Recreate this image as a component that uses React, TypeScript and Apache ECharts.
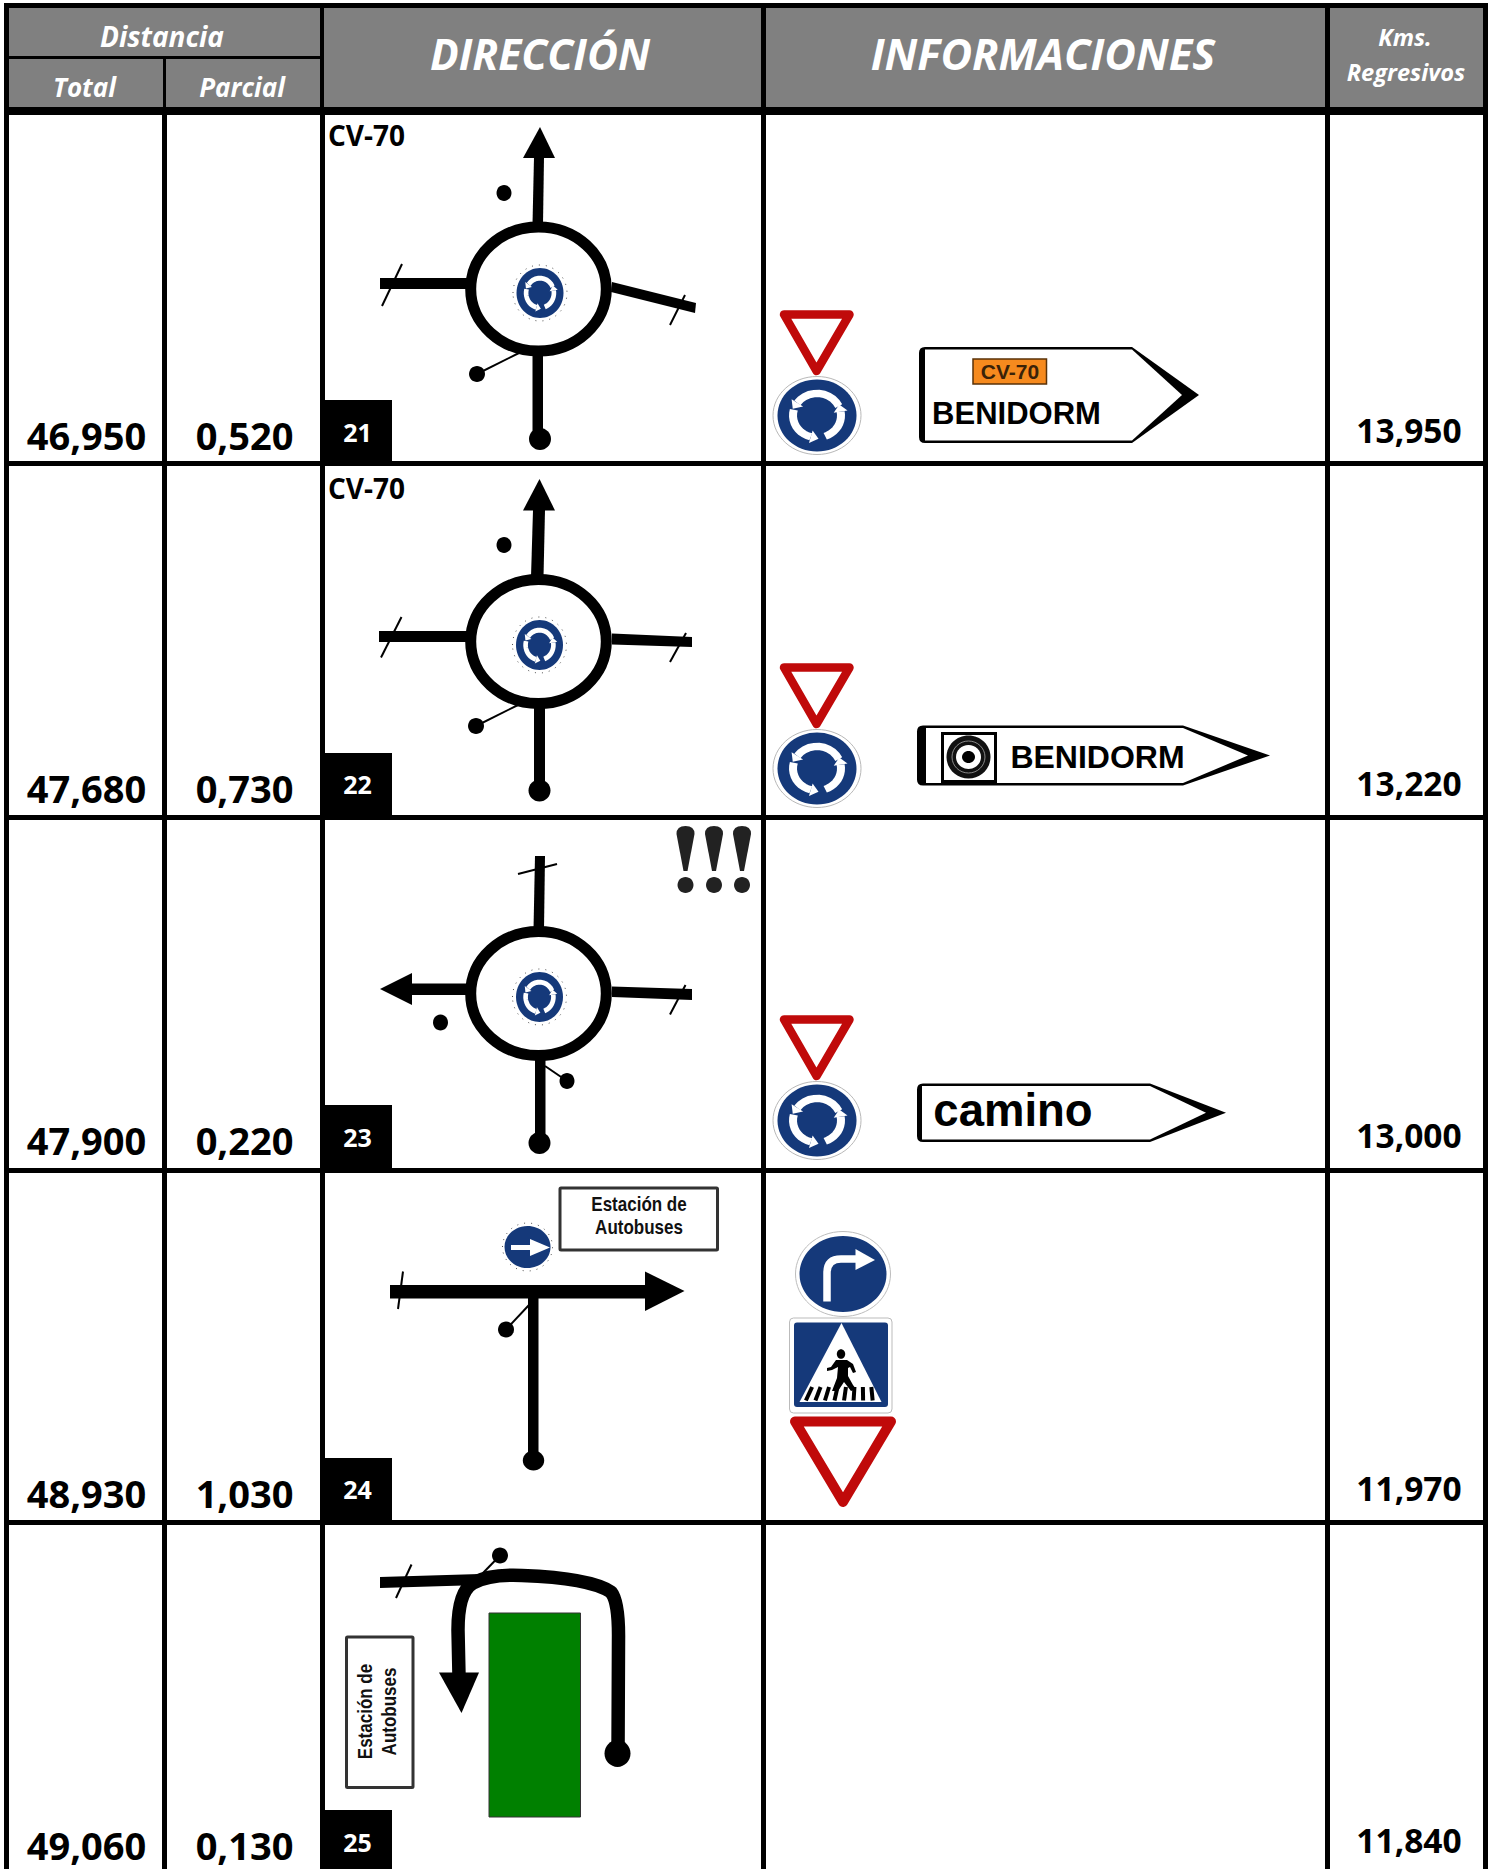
import React, { useEffect, useRef } from "react";
import * as echarts from "echarts";

const totals = ["46,950", "47,680", "47,900", "48,930", "49,060"];
const partials = ["0,520", "0,730", "0,220", "1,030", "0,130"];
const stepNumbers = ["21", "22", "23", "24", "25"];
const regressive = ["13,950", "13,220", "13,000", "11,970", "11,840"];
const roadLabels = ["CV-70", "CV-70", "", "", ""];
const headTop = "Distancia";
const headTotal = "Total";
const headPartial = "Parcial";
const headDirection = "DIRECCIÓN";
const headInfo = "INFORMACIONES";
const headKm = ["Kms.", "Regresivos"];
const placeNames = ["BENIDORM", "camino", "Estación de", "Autobuses"];

const W = 1494;
const H = 1869;
const FONT = '"Open Sans"';
const SIGN = '"Liberation Sans"';
const NAVY = "#15397a";
const RED = "#c00a0a";

const rect = (x0: number, y0: number, x1: number, y1: number, fill: string, extra: any = {}) => ({
  type: "rect",
  shape: { x: x0, y: y0, width: x1 - x0, height: y1 - y0, r: extra.r || 0 },
  style: { fill, stroke: extra.stroke, lineWidth: extra.lineWidth },
});
const ell = (cx: number, cy: number, rx: number, ry: number, fill: string, extra: any = {}) => ({
  type: "ellipse",
  shape: { cx, cy, rx, ry },
  style: { fill, ...extra },
});
const poly = (points: number[][], fill: string, extra: any = {}) => ({
  type: "polygon",
  shape: { points },
  style: { fill, ...extra },
});
const seg = (x0: number, y0: number, x1: number, y1: number, lineWidth = 2, stroke = "#000") => ({
  type: "line",
  shape: { x1: x0, y1: y0, x2: x1, y2: y1 },
  style: { stroke, lineWidth },
});
const path = (d: string, style: any) => ({ type: "path", shape: { pathData: d }, style });
const txt = (text: string, x: number, y: number, size: number, o: any = {}) => ({
  type: "text",
  x,
  y,
  rotation: o.rotation || 0,
  scaleX: o.scaleX || 1,
  style: {
    text,
    x: 0,
    y: 0,
    fill: o.fill || "#000",
    fontSize: size,
    fontFamily: o.family || FONT,
    fontWeight: o.weight || "bold",
    fontStyle: o.italic ? "italic" : "normal",
    textAlign: o.align || "center",
    textVerticalAlign: "middle",
  },
});

function rotaryArrows(lw: number) {
  const r = 24;
  const out: any[] = [];
  [[70, -10], [-25, -145], [-165, -255]].forEach(([a0, a1]) => {
    const pts: number[][] = [];
    for (let k = 0; k <= 10; k++) {
      const t = ((a0 + ((a1 - a0) * k) / 10) * Math.PI) / 180;
      pts.push([r * Math.cos(t), r * Math.sin(t)]);
    }
    out.push({ type: "polyline", shape: { points: pts }, style: { stroke: "#fff", lineWidth: lw, fill: "none" } });
    const t1 = (a1 * Math.PI) / 180;
    const px = r * Math.cos(t1);
    const py = r * Math.sin(t1);
    const dx = Math.sin(t1);
    const dy = -Math.cos(t1);
    out.push(
      poly(
        [
          [px + Math.cos(t1) * 7, py + Math.sin(t1) * 7],
          [px - Math.cos(t1) * 7, py - Math.sin(t1) * 7],
          [px + dx * 8, py + dy * 8],
        ],
        "#fff"
      )
    );
  });
  return out;
}

function roundSign(cx: number, cy: number) {
  return [
    ell(cx, cy, 44, 39, "#fff", { stroke: "#b8b8b8", lineWidth: 1 }),
    ell(cx, cy, 39.5, 36, NAVY),
    { type: "group", x: cx, y: cy, scaleX: 1, scaleY: 0.92, children: rotaryArrows(8) },
  ];
}

function smallRotary(cx: number, cy: number) {
  return [
    ell(cx, cy, 27, 28, "#fff", { stroke: "#555", lineWidth: 1, lineDash: [1, 6] }),
    ell(cx, cy, 23.5, 25, NAVY),
    { type: "group", x: cx, y: cy, scaleX: 0.58, scaleY: 0.62, children: rotaryArrows(8) },
  ];
}

function yieldSign(dy: number) {
  return poly(
    [[784, 314.5 + dy], [849.5, 314.5 + dy], [816.5, 371 + dy]],
    "#fff",
    { stroke: RED, lineWidth: 8.5, lineJoin: "round" }
  );
}

function routeSign(x0: number, xb: number, xa: number, y0: number, y1: number, bar: number, inset: number) {
  const ym = (y0 + y1) / 2;
  return [
    path(
      `M${x0 + 6} ${y0} L${xb} ${y0} L${xa} ${ym} L${xb} ${y1} L${x0 + 6} ${y1} Q${x0} ${y1} ${x0} ${y1 - 6} L${x0} ${y0 + 6} Q${x0} ${y0} ${x0 + 6} ${y0} Z`,
      { fill: "#000" }
    ),
    poly(
      [[x0 + bar, y0 + 2.5], [xb, y0 + 2.5], [xa - inset, ym], [xb, y1 - 2.5], [x0 + bar, y1 - 2.5]],
      "#fff"
    ),
  ];
}

function ring(cy: number) {
  return ell(538.5, cy, 67.8, 62, "#fff", { stroke: "#000", lineWidth: 11 });
}

function drawRoot(): any[] {
  const c: any[] = [];
  // Header block
  c.push(rect(4, 3, 1488, 115, "#000"));
  [
    [9, 8, 320, 56],
    [9, 59, 163, 107],
    [166, 59, 320, 107],
    [324, 8, 761, 107],
    [766, 8, 1325, 107],
    [1330, 8, 1483, 107],
  ].forEach(([a, b, d, e]) => c.push(rect(a, b, d, e, "#808080")));
  const white = { fill: "#fff", italic: true };
  c.push(txt(headTop, 162, 36, 28, white));
  c.push(txt(headTotal, 84.5, 87, 26, white));
  c.push(txt(headPartial, 242, 87, 26, white));
  c.push(txt(headDirection, 540, 53, 42.5, white));
  c.push(txt(headInfo, 1043, 53, 43.4, white));
  c.push(txt(headKm[0], 1405, 37, 23.5, white));
  c.push(txt(headKm[1], 1406, 72, 23.6, white));

  // Grid lines
  [[4, 9], [162, 167], [320, 325], [761, 766], [1325, 1330], [1483, 1488]].forEach(([a, b]) =>
    c.push(rect(a, 115, b, H, "#000"))
  );
  [461, 815, 1168, 1520].forEach((y) => c.push(rect(4, y, 1488, y + 5, "#000")));

  // Row values
  totals.forEach((v, i) => {
    const dy = i * 352.6;
    c.push(txt(v, 86.5, 435 + dy, 38));
    c.push(txt(partials[i], 244.5, 435 + dy, 38));
    c.push(txt(regressive[i], 1409, 430 + dy, 33.5));
    const top = [400, 753, 1105, 1458, 1810][i];
    const bot = [461, 815, 1168, 1520, H][i];
    c.push(rect(325, top, 392, bot, "#000"));
    c.push(txt(stepNumbers[i], 357.5, 431.5 + dy, 25, { fill: "#fff" }));
    if (roadLabels[i]) c.push(txt(roadLabels[i], 366.5, 135 + i * 352.5, 28));
  });

  // Row 1 diagram
  c.push(ring(289));
  c.push(...smallRotary(540, 293));
  c.push(poly([[540, 127], [555, 158], [523, 158]], "#000"));
  c.push(poly([[534, 157], [544, 157], [543, 224], [532.5, 224]], "#000"));
  c.push(ell(504, 193, 7.5, 8, "#000"));
  c.push(poly([[380, 278], [468, 278], [468, 289], [380, 289]], "#000"));
  c.push(seg(402, 264, 382, 306));
  c.push(poly([[612, 282], [696, 303], [695, 313], [611, 292]], "#000"));
  c.push(seg(685, 295, 670, 325));
  c.push(rect(532.5, 352, 543, 436, "#000"));
  c.push(ell(540, 439, 11, 11, "#000"));
  c.push(ell(477, 374, 8, 8, "#000"));
  c.push(seg(477, 374, 519, 353));

  // Row 2 diagram
  c.push(ring(641.5));
  c.push(...smallRotary(539.5, 645));
  c.push(poly([[539.5, 479], [555, 510.5], [523, 510.5]], "#000"));
  c.push(poly([[533, 510], [545, 510], [543.5, 577], [531, 577]], "#000"));
  c.push(ell(504, 545, 7.5, 8, "#000"));
  c.push(poly([[379, 631], [468, 631], [468, 642], [379, 642]], "#000"));
  c.push(seg(401.5, 617, 381, 657.5));
  c.push(poly([[612, 633.5], [692, 637], [692, 647], [612, 644.5]], "#000"));
  c.push(seg(686, 633, 670, 662));
  c.push(rect(534, 705, 545, 788, "#000"));
  c.push(ell(539.5, 790.5, 11, 11, "#000"));
  c.push(ell(476, 726, 8, 8, "#000"));
  c.push(seg(476, 726, 518, 705));

  // Row 3 diagram
  c.push(poly([[535, 856], [545, 856], [544, 929], [533.5, 929]], "#000"));
  c.push(seg(518, 874, 557, 864));
  c.push(ring(993.5));
  c.push(...smallRotary(539.5, 997));
  c.push(poly([[380, 989], [412, 973], [412, 1005]], "#000"));
  c.push(rect(411, 983.5, 468, 995, "#000"));
  c.push(ell(440.5, 1022.5, 7.5, 8, "#000"));
  c.push(poly([[612, 986.5], [692, 989], [692, 1000], [612, 997]], "#000"));
  c.push(seg(685.5, 985, 670, 1014.5));
  c.push(rect(535, 1058, 545.5, 1140, "#000"));
  c.push(ell(539.5, 1143, 11, 11, "#000"));
  c.push(ell(567, 1081, 7.5, 8, "#000"));
  c.push(seg(567, 1081, 545, 1066));
  [685.5, 714, 742].forEach((cx) => {
    c.push(
      path(
        `M${cx - 9} 834 Q${cx - 9} 826 ${cx} 826 Q${cx + 9} 826 ${cx + 9} 834 L${cx + 2} 871 L${cx - 2} 871 Z`,
        { fill: "#222" }
      )
    );
    c.push(ell(cx, 885, 8, 8, "#222"));
  });

  // Row 4 diagram
  c.push(rect(390, 1285, 646, 1298.5, "#000"));
  c.push(poly([[645, 1271.5], [684.5, 1291], [645, 1311]], "#000"));
  c.push(seg(403, 1271.5, 398, 1309));
  c.push(rect(528, 1297, 538.5, 1455, "#000"));
  c.push(ell(533.5, 1460.5, 10.7, 10, "#000"));
  c.push(ell(506, 1329.5, 8, 8, "#000"));
  c.push(seg(506, 1329.5, 529, 1305));
  c.push(ell(527.5, 1247, 25, 24, "#fff", { stroke: "#555", lineWidth: 1, lineDash: [1, 6] }));
  c.push(ell(527.5, 1247, 23, 21, NAVY));
  c.push(rect(511, 1245, 535, 1250, "#fff"));
  c.push(poly([[530, 1239], [550, 1247.5], [530, 1256]], "#fff"));
  c.push(rect(560, 1188, 717.5, 1250, "#fff", { stroke: "#333", lineWidth: 3, r: 1 }));
  c.push(txt(placeNames[2], 639, 1204, 20, { family: SIGN, scaleX: 0.85, fill: "#111" }));
  c.push(txt(placeNames[3], 639, 1226.5, 20, { family: SIGN, scaleX: 0.85, fill: "#111" }));

  // Row 5 diagram
  c.push(poly([[380, 1577], [480, 1574], [480, 1585], [380, 1588]], "#000"));
  c.push(seg(411.5, 1564.5, 396, 1598));
  c.push(ell(500, 1555.5, 8, 8, "#000"));
  c.push(seg(500, 1555.5, 482, 1574));
  c.push(rect(489, 1613, 580.5, 1817, "#008000", { stroke: "#333", lineWidth: 1 }));
  c.push(
    path(
      "M618 1755 L618.5 1640 Q619 1602 611 1592 Q590 1578 522 1575.5 Q490 1574 473 1583 Q458 1592 458 1630 L459 1676",
      { fill: "none", stroke: "#000", lineWidth: 13.5, lineJoin: "round" }
    )
  );
  c.push(poly([[439, 1672.5], [479, 1672.5], [461.5, 1713]], "#000"));
  c.push(ell(617.5, 1753.5, 13, 13.4, "#000"));
  c.push(rect(346.5, 1637, 413, 1787.5, "#fff", { stroke: "#333", lineWidth: 3, r: 1 }));
  c.push(txt(placeNames[2], 365, 1711.5, 20, { family: SIGN, rotation: Math.PI / 2, scaleX: 0.85, fill: "#111" }));
  c.push(txt(placeNames[3], 389, 1711.5, 20, { family: SIGN, rotation: Math.PI / 2, scaleX: 0.85, fill: "#111" }));

  // Info column: rows 1-3
  [0, 353, 705].forEach((dy) => {
    c.push(yieldSign(dy));
    c.push(...roundSign(817, 415.5 + dy));
  });

  // Sign row 1
  c.push(...routeSign(919, 1132, 1199, 347, 443, 6, 17));
  c.push(rect(973, 359, 1046.5, 384, "#f68a1e", { stroke: "#5a3208", lineWidth: 1.5 }));
  c.push(txt(roadLabels[0], 1010, 371.5, 20, { family: SIGN, fill: "#3a2208", scaleX: 1.05 }));
  c.push(txt(placeNames[0], 1016.5, 413, 31, { family: SIGN }));

  // Sign row 2
  c.push(...routeSign(917, 1183, 1270, 725.5, 785.5, 9, 22));
  c.push(rect(942.5, 733.5, 995.5, 781.5, "#fff", { stroke: "#000", lineWidth: 3 }));
  c.push(ell(968.5, 757, 22, 21.5, "#111"));
  c.push(ell(968.5, 757, 16.5, 16, "none", { stroke: "#888", lineWidth: 1 }));
  c.push(ell(968.5, 757, 12.5, 12, "#fff"));
  c.push(ell(968.5, 757, 6.5, 6, "#000"));
  c.push(txt(placeNames[0], 1097.5, 756.5, 32, { family: SIGN }));

  // Sign row 3
  c.push(...routeSign(917, 1150, 1226, 1083.5, 1142, 5, 20));
  c.push(txt(placeNames[1], 1013, 1110, 45.5, { family: SIGN }));

  // Info column: row 4
  c.push(ell(843, 1274, 47.5, 42.5, "#fff", { stroke: "#bdbdbd", lineWidth: 1 }));
  c.push(ell(843, 1274, 43.5, 38, NAVY));
  c.push(
    path("M827 1301.5 L827 1273 Q827 1259 841 1259 L858 1259", { fill: "none", stroke: "#fff", lineWidth: 7.5 })
  );
  c.push(poly([[855.5, 1249], [875, 1260], [855.5, 1270]], "#fff"));
  c.push(rect(789.5, 1318, 892, 1413, "#fff", { stroke: "#bbb", lineWidth: 1, r: 4 }));
  c.push(rect(794, 1322.5, 888, 1407, NAVY, { r: 3 }));
  c.push(poly([[841.5, 1323], [881.5, 1402], [799.5, 1402]], "#fff"));
  // Pedestrian
  c.push(ell(841, 1354, 4.2, 4.8, "#000"));
  c.push(
    poly(
      [[836, 1360], [847, 1360], [853, 1364], [856, 1372], [853, 1373], [850, 1367], [848, 1368], [848, 1376], [853, 1385], [856, 1389], [851, 1391], [844, 1382], [838, 1391], [832, 1391], [837, 1378], [838, 1367], [832, 1370], [827, 1371], [827, 1368], [831, 1367]],
      "#000"
    )
  );
  [809, 818, 827, 836, 845, 854, 863, 872].forEach((x) => {
    const lean = (841 - x) * 0.06;
    c.push(seg(x + lean + 1.2, 1387, x - lean - 1.2, 1400.5, 4));
  });
  c.push(
    poly([[795, 1421.5], [891, 1421.5], [843, 1502]], "#fff", { stroke: RED, lineWidth: 10, lineJoin: "round" })
  );
  return c;
}

export default function App() {
  const ref = useRef<HTMLDivElement>(null);
  useEffect(() => {
    if (!ref.current) return;
    const chart = echarts.init(ref.current, undefined, { renderer: "svg" });
    chart.setOption({
      animation: false,
      backgroundColor: "#fff",
      grid: { left: 0, top: 0, right: 0, bottom: 0 },
      xAxis: { type: "value", min: 0, max: W, show: false },
      yAxis: { type: "value", min: 0, max: H, inverse: true, show: false },
      series: [
        {
          type: "custom",
          coordinateSystem: "cartesian2d",
          clip: false,
          silent: true,
          data: [[0, 0]],
          renderItem: () => ({ type: "group", children: drawRoot() }),
        },
      ],
    });
    return () => chart.dispose();
  }, []);
  return (
    <div
      ref={ref}
      style={{ position: "absolute", left: 0, top: 0, width: W, height: H, background: "#fff" }}
    />
  );
}
